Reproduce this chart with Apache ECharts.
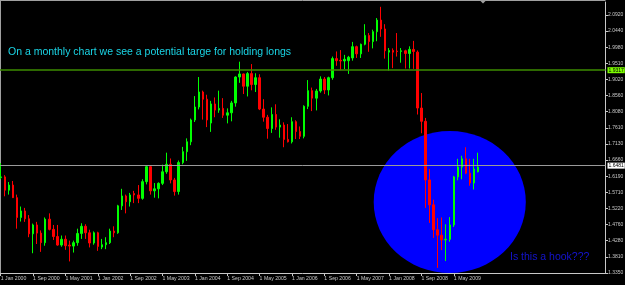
<!DOCTYPE html>
<html><head><meta charset="utf-8">
<script src="https://cdn.jsdelivr.net/npm/echarts@6/dist/echarts.min.js"></script>
<style>html,body{margin:0;padding:0;background:#000;}#c{width:625px;height:285px;}</style>
</head><body><div id="c"></div><script>
// ---- data (monthly GBP/USD, Jan 2000 .. Nov 2009) ----
const firstYear = 2000;
const slotCount = 150; // months shown on the axis (chart has empty space on the right)
const monthNames = ['Jan','Feb','Mar','Apr','May','Jun','Jul','Aug','Sep','Oct','Nov','Dec'];

const opens = [
 1.6150,1.6170,1.5780,1.5930,1.5560,1.4980,1.5170,1.4940,1.4500,1.4760,1.4520,1.4240,
 1.4930,1.4630,1.4420,1.4170,1.4340,1.4170,1.4140,1.4240,1.4510,1.4720,1.4530,1.4230,
 1.4530,1.4110,1.4180,1.4240,1.4580,1.4530,1.5320,1.5610,1.5440,1.5680,1.5640,1.5540,
 1.6030,1.6470,1.5760,1.5820,1.5980,1.6320,1.6540,1.6080,1.5740,1.6590,1.6910,1.7200,
 1.7840,1.8220,1.8660,1.8450,1.7750,1.8310,1.8130,1.8180,1.7980,1.8050,1.8340,1.9100,
 1.9190,1.8830,1.9200,1.8880,1.9080,1.8160,1.7920,1.7590,1.8000,1.7630,1.7690,1.7270,
 1.7200,1.7790,1.7500,1.7360,1.8240,1.8700,1.8480,1.8690,1.9040,1.8720,1.9080,1.9640,
 1.9590,1.9570,1.9580,1.9660,1.9990,1.9780,2.0060,2.0320,2.0140,2.0430,2.0770,2.0510,
 1.9830,1.9880,1.9860,1.9850,1.9870,1.9790,1.9910,1.9830,1.8190,1.7800,1.6080,1.5350,
 1.4620,1.4460,1.4320,1.4340,1.4760,1.6170,1.6460,1.6700,1.6280,1.5990,1.6320
];
const highs = [
 1.6570,1.6220,1.6020,1.6050,1.5650,1.5300,1.5260,1.5050,1.4800,1.4850,1.4600,1.4980,
 1.5100,1.4760,1.4760,1.4450,1.4450,1.4300,1.4300,1.4650,1.4810,1.4780,1.4620,1.4570,
 1.4560,1.4350,1.4400,1.4650,1.4720,1.5350,1.5820,1.5650,1.5700,1.5760,1.5930,1.6100,
 1.6500,1.6500,1.5990,1.6010,1.6530,1.6880,1.6710,1.6140,1.6650,1.7050,1.7300,1.7880,
 1.8540,1.9100,1.8700,1.8580,1.8400,1.8500,1.8700,1.8480,1.8180,1.8400,1.9120,1.9550,
 1.9200,1.9250,1.9480,1.9210,1.9180,1.8450,1.7990,1.8210,1.8300,1.7860,1.7770,1.7720,
 1.7920,1.7830,1.7650,1.8270,1.9010,1.8790,1.8750,1.9120,1.9100,1.9110,1.9700,1.9850,
 1.9890,1.9750,1.9720,2.0130,2.0020,2.0080,2.0650,2.0390,2.0490,2.0830,2.1160,2.0650,
 1.9950,1.9940,2.0390,1.9950,1.9900,2.0000,2.0160,1.9880,1.8630,1.7900,1.6400,1.5500,
 1.4960,1.4980,1.4780,1.4990,1.6200,1.6700,1.6790,1.7040,1.6700,1.6700,1.6880
];
const lows = [
 1.6100,1.5600,1.5650,1.5550,1.4650,1.4860,1.4850,1.4400,1.3930,1.4200,1.3970,1.4150,
 1.4600,1.4320,1.4150,1.4120,1.4030,1.3690,1.3950,1.4150,1.4350,1.4350,1.4100,1.4180,
 1.4000,1.4050,1.4050,1.4200,1.4400,1.4500,1.5200,1.5100,1.5300,1.5400,1.5400,1.5500,
 1.5950,1.5650,1.5560,1.5540,1.5930,1.6260,1.5980,1.5620,1.5650,1.6540,1.6640,1.7100,
 1.7780,1.8150,1.7850,1.7630,1.7490,1.7920,1.8050,1.7900,1.7740,1.7800,1.8230,1.8930,
 1.8600,1.8530,1.8710,1.8660,1.8130,1.7790,1.7290,1.7460,1.7550,1.7320,1.7040,1.7180,
 1.7150,1.7280,1.7280,1.7300,1.8160,1.8100,1.8120,1.8640,1.8600,1.8560,1.9020,1.9430,
 1.9300,1.9330,1.9190,1.9580,1.9660,1.9660,2.0030,1.9840,1.9940,2.0150,2.0280,1.9640,
 1.9290,1.9360,1.9700,1.9520,1.9350,1.9350,1.9340,1.8000,1.7450,1.5260,1.4820,1.4380,
 1.3500,1.4020,1.3700,1.4270,1.4700,1.6070,1.6100,1.6250,1.5910,1.5800,1.6300
];
const closes = [
 1.6170,1.5780,1.5930,1.5560,1.4980,1.5170,1.4940,1.4500,1.4760,1.4520,1.4240,1.4930,
 1.4630,1.4420,1.4170,1.4340,1.4150,1.4140,1.4240,1.4510,1.4720,1.4530,1.4230,1.4530,
 1.4130,1.4180,1.4240,1.4580,1.4530,1.5320,1.5610,1.5440,1.5640,1.5640,1.5540,1.6030,
 1.6470,1.5760,1.5820,1.5980,1.6320,1.6540,1.6080,1.5740,1.6590,1.6910,1.7200,1.7840,
 1.8220,1.8660,1.8450,1.7840,1.8310,1.8130,1.8180,1.7980,1.8050,1.8340,1.9100,1.9190,
 1.8830,1.9200,1.8880,1.9080,1.8160,1.7920,1.7590,1.8000,1.7630,1.7690,1.7270,1.7200,
 1.7790,1.7500,1.7360,1.8240,1.8700,1.8480,1.8690,1.9040,1.8720,1.9080,1.9640,1.9580,
 1.9570,1.9620,1.9680,1.9990,1.9780,2.0060,2.0320,2.0140,2.0430,2.0770,2.0510,1.9870,
 1.9880,1.9830,1.9850,1.9870,1.9790,1.9910,1.9850,1.8190,1.7800,1.6080,1.5350,1.4620,
 1.4460,1.4320,1.4340,1.4760,1.6170,1.6460,1.6700,1.6280,1.5990,1.6400,1.6460
];

const xTickLabels = ['1 Jan 2000','1 Sep 2000','1 May 2001','1 Jan 2002','1 Sep 2002','1 May 2003',
 '1 Jan 2004','1 Sep 2004','1 May 2005','1 Jan 2006','1 Sep 2006','1 May 2007','1 Jan 2008','1 Sep 2008','1 May 2009'];
const xTickEvery = 8;
const yTickLabels = ['1.3350','1.3810','1.4280','1.4760','1.5220','1.5710','1.6190','1.6660','1.7130',
 '1.7610','1.8080','1.8560','1.9020','1.9510','1.9980','2.0440','2.0920'];
const yMin = 1.3350, yStep = 0.0473125, yMax = 2.1301;
const resistanceLevel = 1.9317;
const lastPrice = 1.6481;
const noteText = 'On a monthly chart we see a potential targe for holding longs';
const hookText = 'Is this a hook???';
// highlighted zone (ellipse) expressed in chart units: month index & price
const hookZone = { centerMonth: 111, centerPrice: 1.5434, halfMonths: 18.8, halfPrice: 0.2083 };

// ---- build ----
const categories = [];
for (let i = 0; i < slotCount; i++) categories.push(monthNames[i % 12] + ' ' + (firstYear + Math.floor(i / 12)));
const candles = opens.map((o, i) => [o, closes[i], lows[i], highs[i]]);

const axisGray = '#c8c8c8';
const tinyFont = '"Liberation Sans Narrow", "Liberation Sans", Arial, sans-serif';
const isXTick = (i) => i % xTickEvery === 0 && (i / xTickEvery) < xTickLabels.length;

const chart = echarts.init(document.getElementById('c'), null, { renderer: 'canvas' });
chart.setOption({
  backgroundColor: '#000000',
  animation: false,
  grid: { left: -1.3, right: 19.5, top: 2, bottom: 12, show: false, containLabel: false, outerBoundsMode: 'none' },
  xAxis: {
    type: 'category', data: categories, boundaryGap: true,
    axisLine: { show: true, lineStyle: { color: axisGray, width: 1 } },
    axisTick: { show: true, alignWithLabel: true, interval: (i) => isXTick(i), length: 3, lineStyle: { color: axisGray } },
    axisLabel: { interval: (i) => isXTick(i), formatter: (v, i) => xTickLabels[i / xTickEvery] || '',
      color: axisGray, fontSize: 5.2, fontFamily: tinyFont, align: 'left', margin: 3 },
    splitLine: { show: false }
  },
  yAxis: {
    type: 'value', position: 'right', min: yMin, max: yMax, interval: yStep,
    axisLine: { show: true, lineStyle: { color: axisGray } },
    axisTick: { show: true, length: 2.5, lineStyle: { color: axisGray } },
    axisLabel: {
      showMaxLabel: false, color: axisGray, fontSize: 5, fontFamily: tinyFont, margin: 2.5,
      formatter: (v) => {
        const k = Math.round((v - yMin) / yStep);
        return (Math.abs(v - (yMin + k * yStep)) < 1e-6 && k < yTickLabels.length) ? yTickLabels[k] : '';
      }
    },
    splitLine: { show: false }
  },
  series: [{
    type: 'candlestick', data: candles, barWidth: 2,
    itemStyle: { color: '#00ff00', color0: '#ff0000', borderColor: '#00ff00', borderColor0: '#ff0000', borderWidth: 1 },
    markLine: {
      silent: true, symbol: ['none', 'none'], animation: false,
      data: [
        { yAxis: resistanceLevel, lineStyle: { color: '#3c8c00', width: 1.5, type: 'solid' },
          label: { show: true, position: 'end', distance: 2, formatter: () => resistanceLevel.toFixed(4),
            backgroundColor: '#7cfc00', color: '#000', fontSize: 5, fontFamily: tinyFont, padding: [1, 1, 0, 1] } },
        { yAxis: lastPrice, lineStyle: { color: '#9a9a9a', width: 1, type: 'solid' },
          label: { show: true, position: 'end', distance: 2, formatter: () => lastPrice.toFixed(4),
            backgroundColor: '#ffffff', color: '#000', fontSize: 5, fontFamily: tinyFont, padding: [1, 1, 0, 1] } }
      ]
    }
  }]
});

// annotation ellipse placed through the chart's own coordinate system
const p0 = chart.convertToPixel({ seriesIndex: 0 }, [hookZone.centerMonth, hookZone.centerPrice]);
const pA = chart.convertToPixel({ seriesIndex: 0 }, [hookZone.centerMonth + 1, hookZone.centerPrice + hookZone.halfPrice]);
const monthPx = pA[0] - p0[0];
const ry = p0[1] - pA[1];
const rx = hookZone.halfMonths * monthPx;
const rightEdge = chart.convertToPixel({ seriesIndex: 0 }, [slotCount - 1, yMin])[0] + monthPx / 2;
const bottomEdge = chart.convertToPixel({ seriesIndex: 0 }, [0, yMin])[1];

chart.setOption({
  graphic: [
    { type: 'line', z: 0, silent: true, shape: { x1: 0.5, y1: 0, x2: 0.5, y2: bottomEdge }, style: { stroke: '#a0a0a0', lineWidth: 1 } },
    { type: 'line', z: 0, silent: true, shape: { x1: 0, y1: 0.5, x2: rightEdge, y2: 0.5 }, style: { stroke: '#a0a0a0', lineWidth: 1 } },
    { type: 'polygon', z: 5, silent: true, shape: { points: [[480.5, 1], [485.5, 1], [483, 3.5]] }, style: { fill: '#a0a0a0' } },
    { type: 'ellipse', z: 1, silent: true, shape: { cx: p0[0], cy: p0[1], rx: rx, ry: ry }, style: { fill: '#0000ff' } },
    { type: 'text', z: 100, silent: true, x: 8, y: 52.5,
      style: { text: noteText, fill: '#1ad5e6', font: '10.5px "Liberation Sans", Arial, sans-serif', verticalAlign: 'middle' } },
    { type: 'text', z: 100, silent: true, x: 510, y: 257.5,
      style: { text: hookText, fill: '#1414d2', font: '10.5px "Liberation Sans", Arial, sans-serif', verticalAlign: 'middle' } }
  ]
});
</script></body></html>
